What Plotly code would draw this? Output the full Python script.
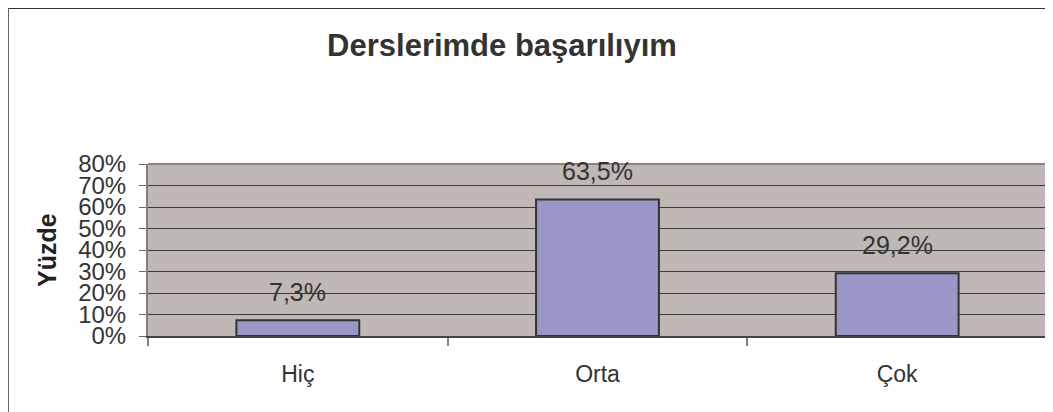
import plotly.graph_objects as go

categories = ["Hiç", "Orta", "Çok"]
values = [7.3, 63.5, 29.2]  # percent
y_ticks = [0, 10, 20, 30, 40, 50, 60, 70, 80]
title_text = "Derslerimde başarılıyım"
y_title = "Yüzde"

# page body has an 8px margin, so the figure is sized/offset to compensate
W, H = 1045, 404
L, R, T, B = 140, 6, 156, 76
PW, PH = W - L - R, H - T - B

def px_x(x):
    return (x - L) / PW

def px_y(y):
    return (H - B - y) / PH

fracs = [v / 100 for v in values]
labels = [f"{v:.1f}".replace(".", ",") + "%" for v in values]
FONT = "Liberation Sans, Arial"

fig = go.Figure()
fig.add_trace(go.Bar(
    x=categories, y=fracs,
    marker=dict(color="#9A96C8", line=dict(color="#333333", width=2)),
    width=0.41,
    hoverinfo="skip",
))

for c, f, t in zip(categories, fracs, labels):
    fig.add_annotation(x=c, y=f, text=t, showarrow=False, xref="x", yref="y",
                       yanchor="bottom", yshift=12,
                       font=dict(family=FONT, size=25, color="#333333"))

fig.add_annotation(text=f"<b>{y_title}</b>", textangle=-90, showarrow=False,
                   xref="paper", yref="paper", x=px_x(39), y=0.5,
                   xanchor="center", yanchor="middle",
                   font=dict(family=FONT, size=25, color="#222222"))

# outer chart frame (top and left edges, extending past the image)
fig.add_shape(type="line", xref="paper", yref="paper",
              x0=px_x(0), x1=1.5, y0=px_y(0), y1=px_y(0),
              line=dict(color="#333333", width=2))
fig.add_shape(type="line", xref="paper", yref="paper",
              x0=px_x(0), x1=px_x(0), y0=-1, y1=px_y(0),
              line=dict(color="#666666", width=2))

# plot frame top/right
fig.add_shape(type="line", xref="paper", yref="paper", x0=0, x1=1, y0=1, y1=1,
              line=dict(color="#8a8280", width=2))
fig.add_shape(type="line", xref="paper", yref="paper", x0=1, x1=1, y0=0, y1=1,
              line=dict(color="#8a8280", width=2))

fig.update_layout(
    width=W, height=H,
    margin=dict(l=L, r=R, t=T, b=B),
    paper_bgcolor="white",
    plot_bgcolor="#C0B8B5",
    showlegend=False,
    bargap=0.59,
    title=dict(text=f"<b>{title_text}</b>", x=494 / W, xanchor="center",
               y=1 - 37 / H, yanchor="middle",
               font=dict(family=FONT, size=31, color="#333333")),
    font=dict(family=FONT, color="#333333"),
)

fig.update_xaxes(
    type="category", tickson="boundaries",
    ticks="outside", ticklen=8, tickcolor="#808080", tickwidth=2,
    showline=True, linecolor="#444444", linewidth=2,
    showgrid=False,
    tickfont=dict(size=23, color="#333333"),
    ticklabelstandoff=16,
    range=[-0.5, 2.5],
)

fig.update_yaxes(
    range=[0, 0.8],
    tickvals=[t / 100 for t in y_ticks],
    ticktext=[f"{t}%" for t in y_ticks],
    ticks="outside", ticklen=7, tickcolor="#666666", tickwidth=1,
    showline=True, linecolor="#808080", linewidth=2,
    showgrid=True, gridcolor="#3a3a3a", gridwidth=1,
    zeroline=False,
    tickfont=dict(size=24, color="#333333"),
    ticklabelstandoff=8,
)

fig.write_html("out.html")
